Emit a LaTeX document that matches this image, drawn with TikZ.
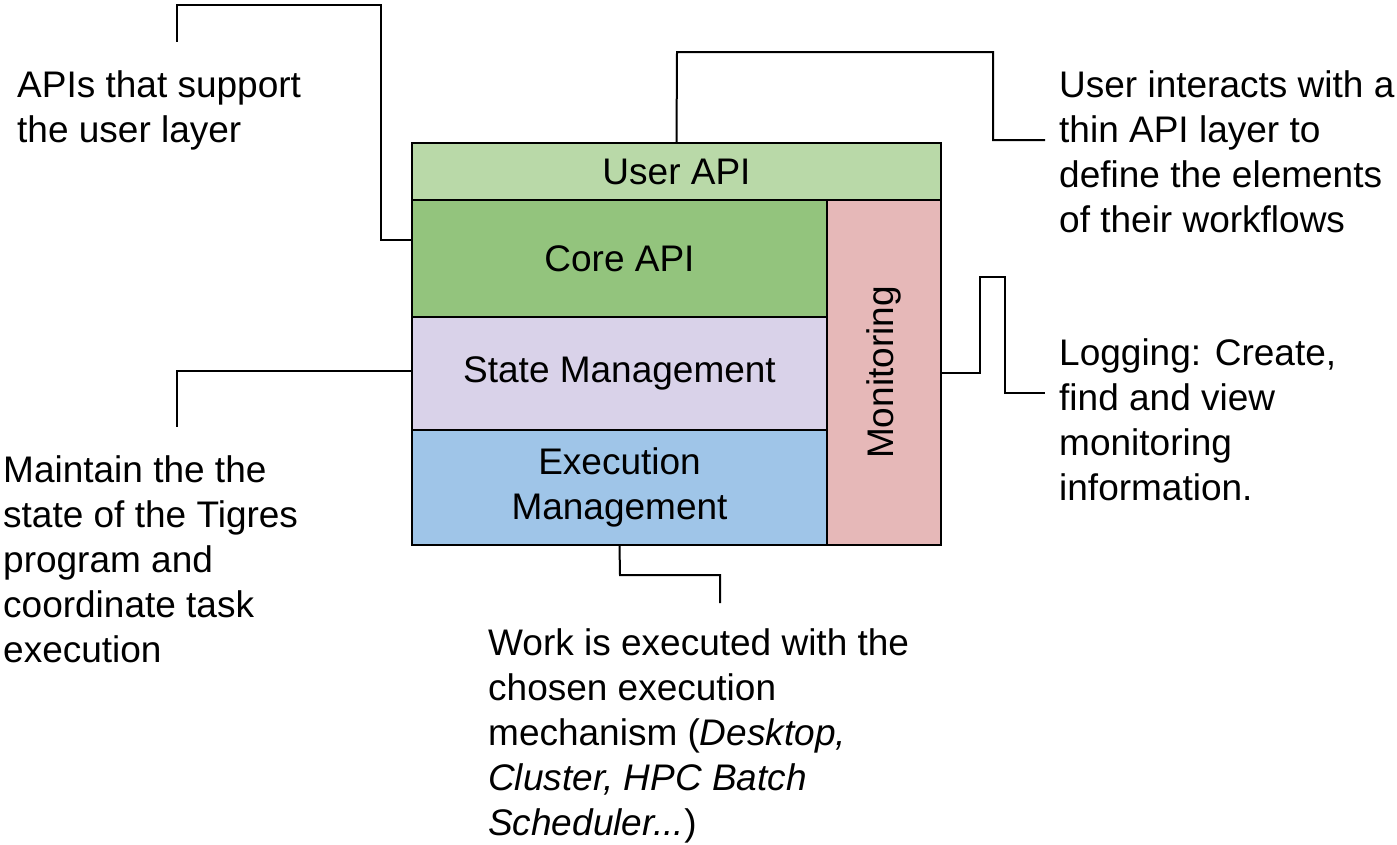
\documentclass[tikz,border=0pt]{standalone}
\usepackage{fontspec}
\setmainfont{Liberation Sans}
\begin{document}
\begin{tikzpicture}[x=1pt,y=-1pt,
  box/.style={draw=black,line width=1.5pt,inner sep=0pt,font=\fontsize{37}{45}\selectfont,align=center},
  lbl/.style={anchor=north west,inner sep=0pt,align=left,font=\fontsize{37}{45}\selectfont},
  conn/.style={draw=black,line width=2pt}]
\useasboundingbox (0,0) rectangle (1397,844);
\node[box,fill={rgb,255:red,185;green,217;blue,168},minimum width=529pt,minimum height=57pt] (user) at (676.5,171.5) {User API};
\node[box,fill={rgb,255:red,147;green,196;blue,125},minimum width=415pt,minimum height=117pt] (core) at (619.5,258.5) {Core API};
\node[box,fill={rgb,255:red,217;green,210;blue,233},minimum width=415pt,minimum height=113pt] (state) at (619.5,373.5) {State Management};
\node[box,fill={rgb,255:red,159;green,197;blue,232},minimum width=415pt,minimum height=115pt] (exec) at (619.5,487.5) {Execution\\Management};
\node[box,fill={rgb,255:red,230;green,184;blue,184},minimum width=114pt,minimum height=345pt] (mon) at (884,372.5) {};
\node[font=\fontsize{37}{45}\selectfont,rotate=90] (montxt) at (mon.center) {Monitoring};

\node[lbl] (t1) at (17,70) {APIs that support\\the user layer};
\node[lbl] (t2) at (1059,70) {User interacts with a\\thin API layer to\\define the elements\\of their workflows};
\node[lbl] (t3) at (1059,338) {Logging: Create,\\find and view\\monitoring\\information.};
\node[lbl] (t4) at (3,455) {Maintain the the\\state of the Tigres\\program and\\coordinate task\\execution};
\node[lbl] (t5) at (488,628) {Work is executed with the\\chosen execution\\mechanism (\textit{Desktop,}\\\textit{Cluster, HPC Batch}\\\textit{Scheduler...})};

\coordinate (e1) at (177,42);
\coordinate (e2) at (1045,140);
\coordinate (e3) at (177,427);
\coordinate (e4) at (1045,393);
\coordinate (e5) at (720,603);
\draw[conn] (core.west |- 0,240) -- (381,240) -- (381,5) -- (177,5) -- (e1);
\draw[conn] (user.north) -- (677,52) -- (993,52) -- (993,140) -- (e2);
\draw[conn] (state.west |- 0,371) -- (177,371) -- (e3);
\draw[conn] (mon.east) -- (980,372.5) -- (980,277) -- (1005,277) -- (1005,393) -- (e4);
\draw[conn] (exec.south) -- (620,575) -- (720,575) -- (e5);
\end{tikzpicture}
\end{document}
